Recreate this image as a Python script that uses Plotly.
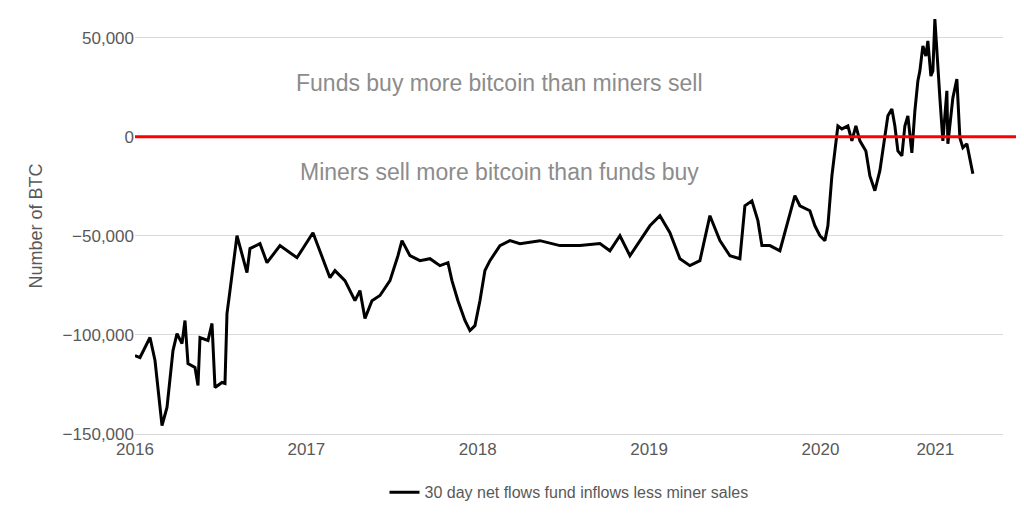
import plotly.graph_objects as go

# traced points: x in pixel-equivalent year units, y in BTC
px = [135,140,150,155,162,167,173,177,182,185,188,195,198,200,208,212,215,222,225,227,230,237,247,250,260,267,280,297,313,322,330,
      335,345,355,360,365,372,380,390,398,402,410,420,430,440,448,452,458,465,470,475,480,485,490,500,510,520,540,560,580,600,610,620,630,640,650,660,670,680,690,700,710,720,730,740,745,752,758,762,770,780,790,795,800,810,815,820,825,828,832,838,842,848,852,856,860,866,870,875,880,885,888,892,895,898,902,905,908,912,915,918,920,923,926,928,931,933,935,940,943,947,948,953,957,960,963,967,973]
py = [355,357,337,360,425,407,350,333,343,320,363,367,385,337,340,323,387,382,383,313,290,235,272,248,243,262,245,257,232,257,277,
      270,280,300,290,318,300,295,280,255,240,255,260,258,265,262,280,300,320,330,325,300,270,260,245,240,243,240,245,245,243,250,235,255,240,225,215,232,258,265,260,215,240,255,258,205,200,220,245,245,250,215,195,205,210,225,235,240,225,175,125,128,125,140,125,140,150,175,190,170,135,115,108,125,150,155,125,115,152,110,80,70,45,55,40,75,70,18,97,140,90,143,97,78,137,147,143,173]

x_vals = [2016 + (p - 135) / 171.4 for p in px]
btc = [round((136 - q) * 504.0, -2) for q in py]

tick_vals = [2016, 2017, 2018, 2019, 2020, 2020.67]
tick_text = ["2016", "2017", "2018", "2019", "2020", "2021"]

fig = go.Figure()
fig.add_trace(go.Scatter(x=x_vals, y=btc, mode="lines", line=dict(color="black", width=3),
                         name="30 day net flows fund inflows less miner sales"))
fig.add_shape(type="line", xref="paper", yref="y", x0=0, x1=1.022, y0=0, y1=0,
              line=dict(color="#ff0000", width=3))
fig.add_annotation(x=0.42, y=27000, xref="paper", yref="y", text="Funds buy more bitcoin than miners sell",
                   showarrow=False, font=dict(size=23, color="#8c8c8c"))
fig.add_annotation(x=0.42, y=-17500, xref="paper", yref="y", text="Miners sell more bitcoin than funds buy",
                   showarrow=False, font=dict(size=23, color="#8c8c8c"))
fig.update_layout(
    width=1024, height=518, plot_bgcolor="white", paper_bgcolor="white",
    margin=dict(l=127, r=29, t=10, b=92),
    font=dict(family="Liberation Sans", color="#595959", size=17),
    xaxis=dict(range=[2016, 2021.065], tickvals=tick_vals, ticktext=tick_text, showgrid=False,
               showline=True, linecolor="#d9d9d9", ticks="", zeroline=False),
    yaxis=dict(range=[-150000, 60000], tickvals=[-150000, -100000, -50000, 0, 50000], tickformat=",",
               showgrid=True, gridcolor="#d9d9d9", zeroline=False, ticks="", ticklen=0,
               title=dict(text="Number of BTC", font=dict(size=18)), ticksuffix="  "),
    showlegend=True,
    legend=dict(orientation="h", x=0.5, xanchor="center", y=-0.14, yanchor="middle", font=dict(size=16)),
)
fig.write_html("out.html")
